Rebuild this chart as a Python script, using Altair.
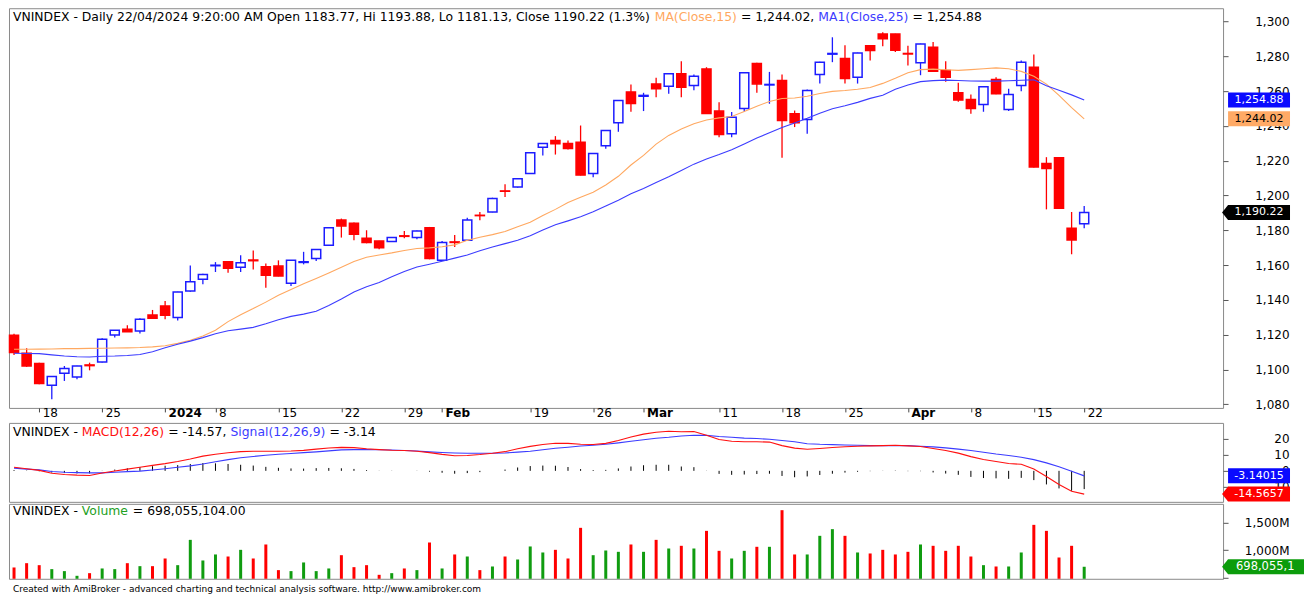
import json
import altair as alt
import pandas as pd

# ---------------- data ----------------
dates = ["2023-12-14", "2023-12-15", "2023-12-18", "2023-12-19", "2023-12-20", "2023-12-21", "2023-12-22",
         "2023-12-25", "2023-12-26", "2023-12-27", "2023-12-28", "2023-12-29", "2024-01-02", "2024-01-03",
         "2024-01-04", "2024-01-05", "2024-01-08", "2024-01-09", "2024-01-10", "2024-01-11", "2024-01-12",
         "2024-01-15", "2024-01-16", "2024-01-17", "2024-01-18", "2024-01-19", "2024-01-22", "2024-01-23",
         "2024-01-24", "2024-01-25", "2024-01-26", "2024-01-29", "2024-01-30", "2024-01-31", "2024-02-01",
         "2024-02-02", "2024-02-05", "2024-02-06", "2024-02-07", "2024-02-15", "2024-02-16", "2024-02-19",
         "2024-02-20", "2024-02-21", "2024-02-22", "2024-02-23", "2024-02-26", "2024-02-27", "2024-02-28",
         "2024-02-29", "2024-03-01", "2024-03-04", "2024-03-05", "2024-03-06", "2024-03-07", "2024-03-08",
         "2024-03-11", "2024-03-12", "2024-03-13", "2024-03-14", "2024-03-15", "2024-03-18", "2024-03-19",
         "2024-03-20", "2024-03-21", "2024-03-22", "2024-03-25", "2024-03-26", "2024-03-27", "2024-03-28",
         "2024-03-29", "2024-04-01", "2024-04-02", "2024-04-03", "2024-04-04", "2024-04-05", "2024-04-08",
         "2024-04-09", "2024-04-10", "2024-04-11", "2024-04-12", "2024-04-15", "2024-04-16", "2024-04-17",
         "2024-04-19", "2024-04-22"]

opens = [1119.6, 1109.3, 1103.4, 1090.9, 1097.8, 1095.7, 1102.6, 1104.3, 1119.8, 1123.1,
         1122.1, 1131.3, 1136.5, 1129.8, 1145.1, 1151.8, 1159.6, 1161.9, 1158.8, 1162.9,
         1159.0, 1159.4, 1149.5, 1161.5, 1163.8, 1171.4, 1185.9, 1184.0, 1175.4, 1173.8,
         1173.5, 1176.8, 1175.8, 1181.5, 1162.8, 1173.3, 1174.2, 1188.6, 1190.5, 1202.6,
         1204.8, 1212.6, 1227.7, 1231.6, 1229.8, 1230.6, 1212.6, 1228.5, 1241.8, 1259.5,
         1257.0, 1264.1, 1262.8, 1269.9, 1263.2, 1272.7, 1248.5, 1235.4, 1250.0, 1275.8,
         1263.5, 1266.0, 1246.9, 1243.7, 1269.5, 1281.2, 1278.7, 1268.0, 1286.1, 1292.8,
         1292.8, 1281.6, 1276.2, 1285.2, 1271.8, 1259.0, 1255.1, 1252.3, 1266.6, 1249.4,
         1263.2, 1273.7, 1218.4, 1221.7, 1181.1, 1183.77]
highs = [1120.5, 1112.2, 1103.8, 1096.2, 1102.0, 1102.2, 1103.9, 1117.9, 1122.6, 1125.4,
         1129.4, 1134.2, 1139.3, 1144.7, 1159.8, 1155.0, 1161.7, 1162.3, 1165.7, 1168.4,
         1160.9, 1162.7, 1162.9, 1167.6, 1169.2, 1181.7, 1186.7, 1184.4, 1180.0, 1174.0,
         1176.0, 1179.6, 1179.8, 1181.9, 1173.8, 1177.3, 1187.2, 1190.5, 1198.7, 1206.4,
         1209.8, 1224.8, 1230.0, 1234.1, 1231.6, 1240.2, 1224.4, 1237.6, 1254.8, 1263.8,
         1259.0, 1267.6, 1270.1, 1277.1, 1269.5, 1273.7, 1253.6, 1247.9, 1270.7, 1276.2,
         1271.0, 1269.5, 1248.8, 1260.9, 1276.8, 1290.9, 1286.3, 1282.1, 1286.3, 1293.8,
         1293.0, 1286.1, 1287.3, 1288.2, 1277.1, 1264.7, 1258.0, 1262.6, 1268.0, 1261.3,
         1277.5, 1281.0, 1222.0, 1221.9, 1190.5, 1193.88]
lows = [1108.3, 1101.5, 1091.5, 1082.9, 1093.4, 1094.4, 1099.5, 1104.0, 1118.3, 1121.5,
        1120.6, 1129.2, 1128.8, 1128.2, 1144.7, 1148.9, 1156.0, 1155.6, 1156.0, 1157.5,
        1147.0, 1153.5, 1147.9, 1160.4, 1162.3, 1171.0, 1175.8, 1174.2, 1172.5, 1169.1,
        1173.3, 1175.4, 1174.8, 1163.3, 1162.4, 1170.4, 1174.0, 1185.7, 1190.3, 1199.1,
        1204.5, 1212.4, 1223.0, 1223.5, 1226.4, 1211.5, 1210.5, 1226.8, 1236.6, 1248.1,
        1248.5, 1256.5, 1258.4, 1256.5, 1260.5, 1246.9, 1233.5, 1233.5, 1248.1, 1259.0,
        1252.7, 1221.7, 1239.3, 1235.4, 1264.3, 1276.6, 1264.3, 1264.3, 1277.5, 1285.8,
        1282.5, 1274.7, 1269.1, 1271.0, 1265.3, 1253.8, 1246.9, 1248.1, 1258.2, 1248.5,
        1259.9, 1216.1, 1192.0, 1192.4, 1166.2, 1181.13]
closes = [1109.7, 1102.0, 1091.9, 1095.9, 1100.5, 1102.0, 1102.2, 1117.3, 1122.5, 1121.7,
          1128.8, 1129.4, 1131.1, 1144.5, 1150.4, 1154.6, 1159.9, 1158.1, 1161.3, 1162.5,
          1154.1, 1153.7, 1162.7, 1161.9, 1169.0, 1181.5, 1182.5, 1177.7, 1172.9, 1170.0,
          1175.8, 1176.5, 1179.6, 1163.7, 1172.9, 1173.0, 1185.9, 1188.4, 1198.3, 1202.4,
          1209.6, 1224.5, 1229.8, 1229.7, 1227.0, 1211.7, 1224.1, 1237.3, 1254.6, 1252.9,
          1257.5, 1261.3, 1269.9, 1262.2, 1268.5, 1247.1, 1235.1, 1245.0, 1270.5, 1264.1,
          1263.8, 1243.1, 1241.8, 1260.3, 1276.6, 1281.6, 1267.2, 1281.9, 1283.3, 1290.0,
          1283.5, 1281.3, 1287.1, 1271.4, 1268.0, 1254.8, 1250.0, 1262.4, 1258.4, 1258.0,
          1276.6, 1216.3, 1215.5, 1192.6, 1174.4, 1190.22]
ma15 = [1111.6, 1111.6, 1111.7, 1111.8, 1112.0, 1112.0, 1112.1, 1112.2, 1112.3, 1112.4,
        1112.6, 1113.0, 1113.6, 1115.0, 1116.8, 1119.2, 1122.5, 1127.5, 1131.5, 1135.0,
        1138.7, 1142.6, 1146.0, 1149.2, 1152.3, 1155.5, 1158.8, 1162.0, 1164.5, 1165.8,
        1167.0, 1168.4, 1169.5, 1169.9, 1170.5, 1171.6, 1174.2, 1176.0, 1177.5, 1179.3,
        1182.0, 1184.6, 1188.5, 1192.0, 1195.9, 1199.0, 1201.8, 1206.0, 1211.0, 1217.5,
        1223.0, 1229.5, 1234.5, 1238.2, 1241.2, 1243.4, 1244.6, 1245.4, 1248.2, 1251.3,
        1254.0, 1255.7, 1256.0, 1257.0, 1258.6, 1259.8, 1260.3, 1261.0, 1262.0, 1264.4,
        1267.3, 1270.5, 1272.3, 1272.6, 1272.2, 1271.9, 1272.3, 1272.8, 1273.3, 1272.8,
        1271.3, 1268.5, 1264.0, 1257.5, 1250.5, 1244.02]
ma25 = [1109.3, 1109.2, 1109.1, 1108.4, 1107.7, 1107.3, 1107.2, 1107.6, 1107.7, 1108.0,
        1108.6, 1110.2, 1112.5, 1114.5, 1116.3, 1118.3, 1120.5, 1122.2, 1123.2, 1124.2,
        1126.3, 1128.6, 1130.5, 1131.8, 1133.5, 1136.8, 1140.5, 1144.5, 1147.5, 1150.0,
        1153.3, 1156.3, 1158.9, 1160.5, 1162.2, 1164.0, 1165.8, 1168.2, 1170.4, 1172.3,
        1174.2, 1176.9, 1180.1, 1183.2, 1185.4, 1187.7, 1190.6, 1194.0, 1197.3, 1201.0,
        1204.0, 1207.5, 1210.7, 1214.4, 1218.0, 1221.0, 1223.5, 1226.2, 1229.6, 1233.0,
        1236.0, 1239.0, 1241.7, 1244.4, 1247.3, 1249.8, 1251.5, 1253.5, 1255.8, 1257.6,
        1261.0, 1263.5, 1265.4, 1266.0, 1266.3, 1266.1, 1265.8, 1265.7, 1265.7, 1265.9,
        1266.2, 1266.5, 1263.0, 1260.5, 1257.8, 1254.88]
macd = [2.2, 1.3, 0.3, -1.5, -2.3, -2.7, -2.9, -1.3, -0.1, 1.1,
        2.2, 3.4, 4.5, 5.8, 7.4, 9.2, 10.4, 11.3, 12.0, 12.3,
        12.3, 12.3, 12.4, 12.8, 13.6, 14.3, 14.7, 14.5, 13.8, 13.3,
        12.9, 12.7, 12.3, 11.4, 10.3, 9.4, 9.6, 10.2, 11.0, 12.0,
        13.8, 15.3, 16.5, 17.3, 17.2, 16.6, 16.5, 17.2, 19.0, 21.2,
        23.0, 24.2, 24.8, 24.5, 24.6, 22.3, 19.6, 18.5, 18.2, 18.2,
        18.0, 15.8, 14.2, 13.5, 14.0, 14.6, 15.1, 15.4, 15.6, 15.8,
        16.0, 15.6, 15.2, 14.0, 12.7, 11.1, 8.9, 7.1, 5.8, 4.6,
        4.1, 1.2, -3.5, -8.5, -12.8, -14.5657]
signal = [1.7, 1.1, 0.6, -0.4, -0.9, -1.1, -1.25, -1.25, -0.9, -0.5,
          -0.2, 0.5, 1.3, 2.2, 3.1, 4.3, 5.7, 7.0, 8.2, 9.0,
          9.8, 10.4, 10.9, 11.4, 11.9, 12.5, 13.1, 13.3, 13.3, 13.2,
          13.0, 12.7, 12.4, 11.9, 11.5, 11.2, 11.0, 11.0, 11.0, 11.2,
          11.7, 12.3, 13.2, 14.1, 14.8, 15.5, 16.0, 16.6, 17.5, 18.5,
          19.5, 20.4, 21.0, 21.8, 22.3, 22.2, 21.5, 21.0, 20.5, 20.2,
          19.8, 19.0, 18.2, 17.0, 16.6, 16.4, 16.2, 16.0, 15.8, 15.7,
          15.8, 15.8, 15.4, 15.0, 14.4, 13.6, 12.7, 11.6, 10.5, 9.6,
          8.5, 7.0, 5.0, 2.5, -0.3, -3.14015]
hist = [0.5, 0.2, -0.3, -1.1, -1.4, -1.6, -1.6, -0.1, 0.8, 1.6,
        2.4, 2.9, 3.2, 3.6, 4.3, 4.9, 4.7, 4.3, 3.8, 3.3,
        2.5, 1.9, 1.5, 1.4, 1.7, 1.8, 1.6, 1.2, 0.5, 0.1,
        -0.1, 0.0, -0.1, -0.5, -1.2, -1.8, -1.4, -0.8, 0.0, 0.8,
        2.1, 3.0, 3.3, 3.2, 2.4, 1.1, 0.5, 0.6, 1.5, 2.7,
        3.5, 3.8, 3.8, 2.7, 2.3, 0.1, -1.9, -2.5, -2.3, -2.0,
        -1.8, -3.2, -4.0, -3.5, -2.6, -1.8, -1.1, -0.6, -0.2, 0.1,
        0.2, -0.2, -0.2, -1.0, -1.7, -2.5, -3.8, -4.5, -4.7, -5.0,
        -4.4, -5.8, -8.5, -11.0, -12.5, -11.43]
volume_m = [685, 763, 727, 655, 619, 534, 582, 667, 655, 763,
            709, 709, 848, 727, 1186, 812, 921, 884, 1005, 848,
            1102, 637, 619, 776, 619, 667, 908, 691, 727, 552,
            582, 667, 637, 1138, 667, 921, 884, 637, 703, 884,
            830, 1066, 957, 1005, 848, 1404, 908, 993, 969, 1102,
            969, 1186, 1029, 1078, 1029, 1349, 987, 848, 987, 1060,
            1060, 1724, 921, 921, 1259, 1380, 1259, 957, 939, 1005,
            921, 969, 1102, 1078, 987, 1078, 884, 727, 703, 703,
            957, 1458, 1349, 866, 1078, 698.055104]

tick_idx = [2, 7, 12, 16, 21, 26, 31, 34, 41, 46, 50, 56, 61, 66, 71, 76, 81, 85]
tick_txt = ["18", "25", "2024", "8", "15", "22", "29", "Feb", "19", "26", "Mar", "11", "18", "25",
            "Apr", "8", "15", "22"]
bold_idx = [12, 34, 50, 71]
price_ticks = list(range(1080, 1301, 20))
macd_ticks = [20, 10, 0, -10]
vol_ticks = [500, 1000, 1500]

# ---------------- styling ----------------
FONT = "DejaVu Sans"
FS = 12.4
W = 1215
H_MAIN, H_MACD, H_VOL = 400, 79, 75
UP = "#1c1cff"
DN = "#ff0000"
MA15_C = "#ffa860"
MA25_C = "#3c3cff"
GREEN = "#109c10"
BORDER = "#8a8a8a"

# DejaVu Sans advance widths (em) used to chain multi-coloured title pieces
EM = {" ": .318, "%": .950, "(": .390, ")": .390, ",": .318, "-": .361, ".": .318, "/": .337,
      ":": .337, "=": .838, "A": .684, "C": .698, "D": .770, "E": .632, "H": .752, "I": .295,
      "L": .557, "M": .863, "N": .748, "O": .787, "S": .635, "V": .684, "X": .685,
      "a": .613, "d": .635, "e": .615, "g": .635, "i": .278, "l": .278, "m": .974, "n": .634,
      "o": .612, "p": .635, "s": .521, "u": .634, "y": .592}
for _d in "0123456789":
    EM[_d] = .636


def text_width(s, size):
    return sum(EM.get(ch, 0.6) for ch in s) * size


n = len(closes)
df = pd.DataFrame({"i": list(range(n)), "date": dates, "o": opens, "h": highs, "l": lows,
                   "c": closes, "ma15": ma15, "ma25": ma25, "macd": macd, "sig": signal,
                   "hist": hist, "vol": volume_m})
df["up"] = [1 if c >= o else 0 for o, c in zip(opens, closes)]
df["bot"] = df[["o", "c"]].min(axis=1)
df["top"] = df[["o", "c"]].max(axis=1)
df["x0"] = df["i"] - 0.36
df["x1"] = df["i"] + 0.36
df["zero"] = 0.0

xs = alt.Scale(domain=[-0.4, 96.03], nice=False, zero=False)
ys_main = alt.Scale(domain=[1077.9, 1307.6], nice=False, zero=False)
ys_macd = alt.Scale(domain=[-19.4, 30.0], nice=False, zero=False)
ys_vol = alt.Scale(domain=[480, 1839], nice=False, zero=False)

label_expr = "%s[indexof(%s, datum.value)]" % (json.dumps(tick_txt), json.dumps(tick_idx))
x_axis = alt.Axis(values=tick_idx, labelExpr=label_expr, title=None, domain=False, grid=False,
                  ticks=True, tickSize=4, tickColor="#444444", labelAlign="left", labelOffset=3,
                  labelBaseline="top", labelPadding=-4, labelFont=FONT, labelFontSize=12,
                  labelColor="#000000", labelFlush=False, labelOverlap=False,
                  labelFontWeight={"condition": {"test": "indexof(%s, datum.value) >= 0" % json.dumps(bold_idx),
                                                 "value": "bold"}, "value": "normal"})


def y_axis(values, fmt=None, expr=None):
    kw = dict(values=values, orient="right", title=None, domain=False, grid=False, ticks=True,
              tickSize=5, tickColor="#555555", labelAlign="right", labelBaseline="middle",
              labelPadding=61, labelFont=FONT, labelFontSize=12, labelColor="#000000",
              labelOverlap=False, labelFlush=False)
    if fmt is not None:
        kw["format"] = fmt
    if expr is not None:
        kw["labelExpr"] = expr
    return alt.Axis(**kw)


ax_main = y_axis(price_ticks, fmt=",d")
ax_macd = y_axis(macd_ticks, fmt="d")
ax_vol = y_axis(vol_ticks, expr="datum.value == 500 ? '' : format(datum.value, ',d') + 'M'")

IS_UP = "datum.up == 1"


def seg(text, x, y, color, size=FS):
    return alt.Chart(pd.DataFrame({"t": [text]})).mark_text(
        align="left", baseline="middle", font=FONT, fontSize=size, color=color
    ).encode(text="t:N", x=alt.value(x), y=alt.value(y))


def chained(pieces, x, y, size=FS):
    layers = []
    for text, color in pieces:
        stripped = text.lstrip(" ")
        lead = text_width(text[:len(text) - len(stripped)], size)
        layers.append(seg(stripped.rstrip(" "), x + lead, y, color, size))
        x += text_width(text, size)
    return alt.layer(*layers)


BOX = "M -31 -7.5 L 31 -7.5 L 31 7.5 L -31 7.5 Z"
ARROW = "M -37 0 L -31 -7.5 L 31 -7.5 L 31 7.5 L -31 7.5 Z"
ARROW_WIDE = "M -37 0 L -31 -7.5 L 45 -7.5 L 45 7.5 L -31 7.5 Z"


def marker(value, label, path, fill, tcolor, yscale, yaxis, left=False):
    d = pd.DataFrame({"v": [value], "t": [label]})
    box = alt.Chart(d).mark_point(shape=path, size=4, filled=True, color=fill, opacity=1,
                                  strokeWidth=0).encode(
        x=alt.value(1251), y=alt.Y("v:Q", scale=yscale, axis=yaxis))
    if not left:
        txt = alt.Chart(d).mark_text(align="center", baseline="middle", font=FONT, fontSize=11,
                                     color=tcolor).encode(
            x=alt.value(1251), y=alt.Y("v:Q", scale=yscale, axis=yaxis), text="t:N")
    else:
        txt = alt.Chart(d).mark_text(align="left", baseline="middle", font=FONT, fontSize=11.5,
                                     color=tcolor).encode(
            x=alt.value(1228), y=alt.Y("v:Q", scale=yscale, axis=yaxis), text="t:N")
    return box + txt


base = alt.Chart(df)

# ---------------- main price panel ----------------
wicks = base.mark_rule(strokeWidth=1.3).encode(
    x=alt.X("i:Q", scale=xs, axis=x_axis),
    y=alt.Y("l:Q", scale=ys_main, axis=ax_main),
    y2="h:Q",
    color=alt.condition(IS_UP, alt.value(UP), alt.value(DN)))
bodies = base.mark_rect(strokeWidth=1.5).encode(
    x=alt.X("x0:Q", scale=xs, axis=x_axis), x2="x1:Q",
    y=alt.Y("bot:Q", scale=ys_main, axis=ax_main), y2="top:Q",
    fill=alt.condition(IS_UP, alt.value("#ffffff"), alt.value(DN)),
    stroke=alt.condition(IS_UP, alt.value(UP), alt.value(DN)))
l15 = base.mark_line(color=MA15_C, strokeWidth=1.1).encode(
    x=alt.X("i:Q", scale=xs, axis=x_axis), y=alt.Y("ma15:Q", scale=ys_main, axis=ax_main))
l25 = base.mark_line(color=MA25_C, strokeWidth=1.1).encode(
    x=alt.X("i:Q", scale=xs, axis=x_axis), y=alt.Y("ma25:Q", scale=ys_main, axis=ax_main))

pct = (closes[-1] / closes[-2] - 1) * 100
t1 = ("VNINDEX - Daily 22/04/2024 9:20:00 AM Open %.2f, Hi %.2f, Lo %.2f, Close %.2f (%.1f%%) "
      % (opens[-1], highs[-1], lows[-1], closes[-1], pct))
main_titles = chained([(t1, "#000000"), ("MA(Close,15)", MA15_C),
                       (" = {:,.2f}, ".format(ma15[-1]), "#000000"),
                       ("MA1(Close,25)", MA25_C), (" = {:,.2f}".format(ma25[-1]), "#000000")], 4, 8.5)

main_marks = (marker(ma25[-1], "{:,.2f}".format(ma25[-1]), BOX, "#0a0aff", "#ffffff", ys_main, ax_main)
              + marker(ma15[-1], "{:,.2f}".format(ma15[-1]), BOX, "#ffaa66", "#000000", ys_main, ax_main)
              + marker(closes[-1], "{:,.2f}".format(closes[-1]), ARROW, "#000000", "#ffffff", ys_main, ax_main))

main = alt.layer(wicks, bodies, l15, l25, main_titles, main_marks).properties(width=W, height=H_MAIN)

# ---------------- MACD panel ----------------
hbars = base.mark_rule(color="#000000", strokeWidth=1).encode(
    x=alt.X("i:Q", scale=xs, axis=None),
    y=alt.Y("zero:Q", scale=ys_macd, axis=ax_macd), y2="hist:Q")
lsig = base.mark_line(color="#3c3cff", strokeWidth=1.1).encode(
    x=alt.X("i:Q", scale=xs, axis=None), y=alt.Y("sig:Q", scale=ys_macd, axis=ax_macd))
lmacd = base.mark_line(color="#ff1010", strokeWidth=1.1).encode(
    x=alt.X("i:Q", scale=xs, axis=None), y=alt.Y("macd:Q", scale=ys_macd, axis=ax_macd))
macd_titles = chained([("VNINDEX - ", "#000000"), ("MACD(12,26)", "#ff1010"),
                       (" = %.2f, " % macd[-1], "#000000"), ("Signal(12,26,9)", "#3c3cff"),
                       (" = %.2f" % signal[-1], "#000000")], 4, 9)
macd_marks = (marker(signal[-1], "%.5f" % signal[-1], BOX, "#0a0aff", "#ffffff", ys_macd, ax_macd)
              + marker(macd[-1], "%.4f" % macd[-1], ARROW, "#ff0000", "#ffffff", ys_macd, ax_macd))
macd_chart = alt.layer(hbars, lsig, lmacd, macd_titles, macd_marks).properties(width=W, height=H_MACD)

# ---------------- volume panel ----------------
vbars = base.mark_rule(strokeWidth=3).encode(
    x=alt.X("i:Q", scale=xs, axis=None),
    y=alt.Y("vol:Q", scale=ys_vol, axis=ax_vol), y2=alt.value(H_VOL),
    color=alt.condition(IS_UP, alt.value(GREEN), alt.value(DN)))
vol_titles = alt.layer(
    chained([("VNINDEX - ", "#000000"), ("Volume", "#22a022"),
             (" = {:,.2f}".format(volume_m[-1] * 1e6), "#000000")], 4, 7.5),
    seg("Created with AmiBroker - advanced charting and technical analysis software. "
        "http://www.amibroker.com", 4, 85, "#000000", size=9))
# the reference shows this label cut off at the picture's right edge
vol_label = "{:,.0f}".format(volume_m[-1] * 1e6)[:9]
vol_marks = marker(volume_m[-1], vol_label, ARROW_WIDE, "#0c9c0c", "#ffffff", ys_vol, ax_vol, left=True)
vol_chart = alt.layer(vbars, vol_titles, vol_marks).properties(width=W, height=H_VOL)

lower = alt.vconcat(macd_chart, vol_chart, spacing=2, bounds="flush")
chart = alt.vconcat(main, lower, spacing=15, bounds="flush").properties(
    padding={"left": 8, "top": 7, "right": 0, "bottom": 0}, background="#ffffff"
).configure_view(stroke=BORDER, strokeWidth=1)

chart.save("out.html", embed_options={"renderer": "svg", "actions": False})
